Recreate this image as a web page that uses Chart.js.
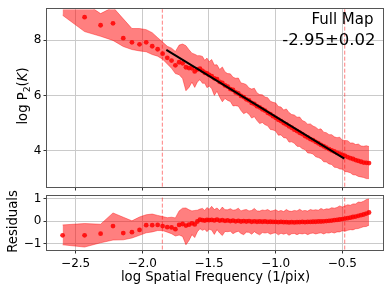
<!DOCTYPE html>
<html><head><meta charset="utf-8">
<script src="https://cdn.jsdelivr.net/npm/chart.js@4.4.1/dist/chart.umd.min.js"></script>
<style>
html,body{margin:0;padding:0;background:#fff;}
#wrap{position:relative;width:390px;height:291px;overflow:hidden;background:#fff;}
#top{position:absolute;left:0;top:0;}
#bot{position:absolute;left:0;top:187px;}
</style></head><body>
<div id="wrap"><canvas id="bot" width="390" height="104"></canvas><canvas id="top" width="390" height="200"></canvas></div>
<script>
// ---- data ----
const logK = [
 -2.598, -2.433, -2.313, -2.220, -2.143, -2.078, -2.021, -1.971, -1.926, -1.885,
 -1.848, -1.813, -1.781, -1.752, -1.724, -1.698, -1.673, -1.650, -1.628, -1.607,
 -1.587, -1.568, -1.549, -1.532, -1.515, -1.499,
 -1.48, -1.46, -1.44, -1.42, -1.40, -1.38, -1.36, -1.34, -1.32, -1.30,
 -1.28, -1.26, -1.24, -1.22, -1.20, -1.18, -1.16, -1.14, -1.12, -1.10,
 -1.08, -1.06, -1.04, -1.02, -1.00, -0.98, -0.96, -0.94, -0.92, -0.90,
 -0.88, -0.86, -0.84, -0.82, -0.80, -0.78, -0.76, -0.74, -0.72, -0.70,
 -0.68, -0.66, -0.64, -0.62, -0.60, -0.58, -0.56, -0.54, -0.52, -0.50,
 -0.48, -0.46, -0.44, -0.42, -0.40, -0.38, -0.36, -0.34, -0.32, -0.30
];
const logP = [
 9.32, 8.83, 8.54, 8.61, 8.07, 7.92, 7.85, 7.92, 7.78, 7.67,
 7.51, 7.36, 7.26, 7.09, 7.20, 7.16, 7.02, 6.99, 6.98, 6.87,
 6.94, 6.97, 6.89, 6.82, 6.80, 6.74,
 6.70, 6.62, 6.59, 6.49, 6.45, 6.36, 6.32, 6.23, 6.20, 6.11,
 6.07, 5.98, 5.94, 5.86, 5.82, 5.73, 5.69, 5.61, 5.57, 5.50,
 5.45, 5.37, 5.32, 5.25, 5.19, 5.12, 5.07, 5.00, 4.95, 4.88,
 4.83, 4.76, 4.71, 4.65, 4.60, 4.53, 4.48, 4.42, 4.38, 4.32,
 4.27, 4.21, 4.16, 4.11, 4.06, 4.01, 3.97, 3.92, 3.89, 3.85,
 3.81, 3.77, 3.73, 3.70, 3.66, 3.63, 3.60, 3.57, 3.56, 3.55
];
const errHi = [
 0.46, 0.52, 0.42, 0.58, 0.70, 0.50, 0.57, 0.46, 0.49, 0.42,
 0.42, 0.42, 0.45, 0.50, 0.62, 0.70, 0.78, 0.66, 0.55, 0.62,
 0.50, 0.47, 0.52, 0.45, 0.55, 0.48,
 0.60, 0.48, 0.52, 0.45, 0.58, 0.49, 0.47, 0.55, 0.46, 0.51,
 0.56, 0.47, 0.49, 0.53, 0.45, 0.50, 0.57, 0.48, 0.46, 0.52,
 0.49, 0.55, 0.47, 0.50, 0.54, 0.48, 0.51, 0.47, 0.56, 0.50,
 0.48, 0.53, 0.50, 0.57, 0.49, 0.52, 0.48, 0.55, 0.51, 0.53,
 0.50, 0.58, 0.51, 0.54, 0.52, 0.57, 0.53, 0.55, 0.60, 0.53,
 0.56, 0.59, 0.55, 0.58, 0.56, 0.61, 0.57, 0.59, 0.62, 0.60
];
const errLo = [
 0.42, 0.52, 0.40, 0.62, 0.30, 0.26, 0.24, 0.34, 0.30, 0.25,
 0.20, 0.22, 0.28, 0.30, 0.45, 0.55, 0.85, 0.70, 0.50, 0.58,
 0.45, 0.40, 0.45, 0.38, 0.52, 0.40,
 0.45, 0.62, 0.44, 0.55, 0.68, 0.47, 0.50, 0.45, 0.58, 0.48,
 0.46, 0.53, 0.60, 0.47, 0.50, 0.55, 0.46, 0.52, 0.59, 0.48,
 0.51, 0.47, 0.55, 0.50, 0.48, 0.56, 0.50, 0.53, 0.49, 0.57,
 0.51, 0.49, 0.55, 0.50, 0.53, 0.49, 0.56, 0.51, 0.50, 0.54,
 0.52, 0.50, 0.56, 0.52, 0.54, 0.51, 0.57, 0.53, 0.55, 0.52,
 0.56, 0.54, 0.53, 0.57, 0.54, 0.56, 0.55, 0.54, 0.57, 0.56
];
const resid = [
 -0.63, -0.63, -0.56, -0.22, -0.53, -0.49, -0.39, -0.18, -0.18, -0.17,
 -0.22, -0.27, -0.28, -0.36, -0.17, -0.13, -0.20, -0.16, -0.10, -0.15,
 -0.02, 0.06, 0.04, 0.02, 0.05, 0.04,
 0.05, 0.03, 0.06, 0.02, 0.04, 0.01, 0.03, 0.00, 0.02, -0.01,
 0.01, -0.02, 0.00, -0.02, 0.00, -0.03, -0.01, -0.03, -0.02, -0.03,
 -0.02, -0.04, -0.03, -0.04, -0.04, -0.05, -0.04, -0.05, -0.05, -0.06,
 -0.05, -0.06, -0.05, -0.05, -0.04, -0.05, -0.04, -0.04, -0.03, -0.03,
 -0.02, -0.02, -0.01, 0.00, 0.01, 0.02, 0.04, 0.05, 0.07, 0.09,
 0.11, 0.13, 0.15, 0.18, 0.20, 0.23, 0.26, 0.29, 0.33, 0.38
];
const fitX = [-1.82, -0.485];
const fitY = [7.65, 3.71];
const cutX = [-1.850, -0.482];
const xTicks = [-2.5, -2.0, -1.5, -1.0, -0.5];
const xTickLabels = ['\u22122.5', '\u22122.0', '\u22121.5', '\u22121.0', '\u22120.5'];
const pTicks = [4, 6, 8];
const pTickLabels = ['4', '6', '8'];
const rTicks = [-1, 0, 1];
const rTickLabels = ['\u22121', '0', '1'];
const mapName = 'Full Map';
const slopeText = '-2.95\u00b10.02';
const xTitle = 'log Spatial Frequency (1/pix)';
const rTitle = 'Residuals';

// ---- styling ----
const FONT = "'DejaVu Sans', sans-serif";
const RED_DOT = 'rgba(255,0,0,0.85)';
const RED_BAND = 'rgba(255,0,0,0.5)';
const GRID = '#cacaca';
const XMIN = -2.715, XMAX = -0.195;

function pts(xs, ys) { return xs.map((x, i) => ({x: x, y: ys[i]})); }
function bandSets(center) {
  return [
    {data: logK.map((x, i) => ({x: x, y: center[i] + errHi[i]})), showLine: true, pointRadius: 0,
     borderColor: RED_BAND, borderWidth: 0.8, backgroundColor: RED_BAND, fill: '+1', order: 6, clip: 0},
    {data: logK.map((x, i) => ({x: x, y: center[i] - errLo[i]})), showLine: true, pointRadius: 0,
     borderColor: RED_BAND, borderWidth: 0.8, backgroundColor: RED_BAND, fill: false, order: 7, clip: 0}
  ];
}
function dotSet(ys) {
  return {data: pts(logK, ys), showLine: false, pointRadius: 2.4, pointBorderWidth: 0,
    pointBackgroundColor: RED_DOT, backgroundColor: RED_DOT, borderColor: RED_DOT, order: 4, clip: 0};
}
function cutSets() {
  return cutX.map(x => ({data: [{x: x, y: -100}, {x: x, y: 100}], showLine: true, pointRadius: 0,
    borderColor: 'rgba(255,0,0,0.5)', borderWidth: 1, borderDash: [4, 2], fill: false, order: 1, clip: 0}));
}
function xScale(showLabels, h) {
  return {type: 'linear', min: XMIN, max: XMAX,
    afterBuildTicks: s => { s.ticks = xTicks.map(v => ({value: v})); },
    afterFit: s => { s.height = h; },
    ticks: {display: showLabels, font: {family: FONT, size: 12}, color: '#000', padding: 3, maxRotation: 0,
      callback: (v, i) => xTickLabels[i]},
    grid: {color: GRID, lineWidth: 1, tickLength: 3.5, tickColor: '#333', tickWidth: 1, drawTicks: true},
    border: {display: false}};
}
function yScale(min, max, ticks, labels) {
  return {type: 'linear', min: min, max: max,
    afterBuildTicks: s => { s.ticks = ticks.map(v => ({value: v})); },
    afterFit: s => { s.width = 47; },
    ticks: {font: {family: FONT, size: 12}, color: '#000', padding: 2, callback: (v, i) => labels[i]},
    grid: {color: GRID, lineWidth: 1, tickLength: 3.5, tickColor: '#333', tickWidth: 1, drawTicks: true},
    border: {display: false}};
}
const framePlugin = {id: 'frame', afterDatasetsDraw(chart) {
  const a = chart.chartArea, c = chart.ctx;
  c.save(); c.strokeStyle = '#555'; c.lineWidth = 1;
  c.strokeRect(Math.round(a.left) - 0.5, Math.round(a.top) - 0.5, Math.round(a.right) - Math.round(a.left) + 1, Math.round(a.bottom) - Math.round(a.top) + 1);
  c.restore();
}};
const topText = {id: 'topText', afterDraw(chart) {
  const c = chart.ctx;
  c.save(); c.fillStyle = '#000'; c.textAlign = 'right'; c.textBaseline = 'alphabetic';
  c.font = '15px ' + FONT; c.fillText(mapName, 373.5, 24);
  c.font = '16.5px ' + FONT; c.fillText(slopeText, 375.5, 45);
  // y label: log P_2(K)
  const parts = [
    {t: 'log P', f: '13.2px ' + FONT, dy: 0},
    {t: '2', f: '9.3px ' + FONT, dy: 2.6},
    {t: '(', f: '13.2px ' + FONT, dy: 0},
    {t: 'K', f: 'italic 13.2px ' + FONT, dy: 0},
    {t: ')', f: '13.2px ' + FONT, dy: 0}
  ];
  let w = 0;
  parts.forEach(p => { c.font = p.f; p.w = c.measureText(p.t).width; w += p.w; });
  c.translate(27, 96); c.rotate(-Math.PI / 2); c.textAlign = 'left';
  let x = -w / 2;
  parts.forEach(p => { c.font = p.f; c.fillText(p.t, x, p.dy); x += p.w; });
  c.restore();
}};
const botText = {id: 'botText', afterDraw(chart) {
  const c = chart.ctx;
  c.save(); c.fillStyle = '#000'; c.textBaseline = 'alphabetic'; c.textAlign = 'center';
  c.font = '13.2px ' + FONT; c.fillText(xTitle, 215.5, 94);
  c.translate(17, 34.5); c.rotate(-Math.PI / 2); c.fillText(rTitle, 0, 0);
  c.restore();
}};
const common = {responsive: false, animation: false, events: [],
  plugins: {legend: {display: false}, tooltip: {enabled: false}}};

new Chart(document.getElementById('top'), {
  type: 'scatter',
  data: {datasets: [
    ...cutSets(),
    {data: pts(fitX, fitY), showLine: true, pointRadius: 0, borderColor: '#000', borderWidth: 2, fill: false, order: 2, clip: 0},
    dotSet(logP),
    ...bandSets(logP)
  ]},
  options: Object.assign({}, common, {
    layout: {padding: {top: 6, right: 7, left: 0, bottom: 0}},
    scales: {x: xScale(false, 13), y: yScale(2.686, 9.12, pTicks, pTickLabels)}
  }),
  plugins: [framePlugin, topText]
});

new Chart(document.getElementById('bot'), {
  type: 'scatter',
  data: {datasets: [
    ...cutSets(),
    dotSet(resid),
    ...bandSets(resid)
  ]},
  options: Object.assign({}, common, {
    layout: {padding: {top: 6, right: 7, left: 0, bottom: 0}},
    scales: {x: xScale(true, 41), y: yScale(-1.28, 1.10, rTicks, rTickLabels)}
  }),
  plugins: [framePlugin, botText]
});
</script>
</body></html>
